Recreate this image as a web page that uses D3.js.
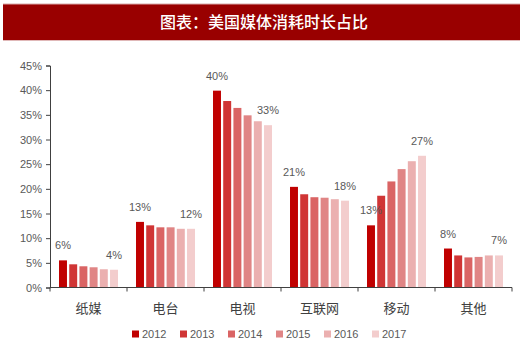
<!DOCTYPE html>
<html><head><meta charset="utf-8">
<script src="https://cdn.jsdelivr.net/npm/d3@7"></script>
<style>body{margin:0;background:#fff;}svg{display:block;}</style>
</head><body>
<svg id="c" width="520" height="349"></svg>
<script>
const title = "图表：美国媒体消耗时长占比";
const categories = ["纸媒","电台","电视","互联网","移动","其他"];
const years = ["2012","2013","2014","2015","2016","2017"];
const colors = ["#C00000","#D03535","#DA6464","#E08585","#EBB0B0","#F3CDCD"];
const s2012 = [5.5, 13.3, 39.9, 20.4, 12.6, 7.9];
const s2013 = [4.7, 12.6, 37.8, 18.9, 18.6, 6.5];
const s2014 = [4.3, 12.2, 36.4, 18.3, 21.5, 6.1];
const s2015 = [4.1, 12.2, 34.9, 18.2, 24.0, 6.2];
const s2016 = [3.7, 11.9, 33.7, 17.9, 25.6, 6.5];
const s2017 = [3.6, 11.9, 32.9, 17.6, 26.7, 6.5];
const firstLabels = ["6%","13%","40%","21%","13%","8%"];
const lastLabels = ["4%","12%","33%","18%","27%","7%"];
const yTicks = [0,5,10,15,20,25,30,35,40,45];

const series = [s2012,s2013,s2014,s2015,s2016,s2017];
const svg = d3.select("#c");

// title bar
svg.append("rect").attr("x",3).attr("y",4).attr("width",517).attr("height",36).attr("fill","#990000");
svg.append("line").attr("x1",3).attr("x2",520).attr("y1",4).attr("y2",4).attr("stroke","#d8a8a8");
svg.append("line").attr("x1",3).attr("x2",520).attr("y1",40.5).attr("y2",40.5).attr("stroke","#e0b8b8");
svg.append("text").attr("x",264).attr("y",28).attr("text-anchor","middle")
  .attr("fill","#fff").attr("font-family","'Noto Sans CJK SC'").attr("font-size",16).attr("font-weight",500)
  .text(title);

const x0 = d3.scaleBand().domain(categories).range([50,512]).paddingInner(0.234).paddingOuter(0.117);
const x1 = d3.scaleBand().domain(years).range([0,x0.bandwidth()]).paddingInner(0.22).paddingOuter(0);
const y = d3.scaleLinear().domain([0,45]).range([287.5,65.5]);

// bars
categories.forEach((c,ci)=>{
  const g = svg.append("g").attr("transform",`translate(${x0(c)},0)`);
  years.forEach((yr,yi)=>{
    const v = series[yi][ci];
    g.append("rect").attr("x",x1(yr)).attr("y",y(v)).attr("width",x1.bandwidth())
      .attr("height",y(0)-y(v)).attr("fill",colors[yi]);
  });
  const lbl = (yr,v,t)=> g.append("text").attr("x",x1(yr)+x1.bandwidth()/2).attr("y",y(v)-11)
    .attr("text-anchor","middle").attr("font-family","'Liberation Sans'").attr("font-size",11)
    .attr("fill","#595959").text(t);
  lbl(years[0], series[0][ci], firstLabels[ci]);
  lbl(years[5], series[5][ci], lastLabels[ci]);
});

// y axis
const yAxis = svg.append("g").attr("transform","translate(50,0)")
  .call(d3.axisLeft(y).tickValues(yTicks).tickFormat(d=>d+"%").tickSize(4).tickPadding(4));
yAxis.select(".domain").attr("stroke","#404040");
yAxis.selectAll(".tick line").attr("stroke","#404040");
yAxis.selectAll("text").attr("font-family","'Liberation Sans'").attr("font-size",11).attr("fill","#595959");

// x axis
const xAxis = svg.append("g").attr("transform",`translate(0,${y(0)})`);
xAxis.append("line").attr("x1",50).attr("x2",512).attr("y1",0).attr("y2",0).attr("stroke","#404040");
const edges = categories.map(c=>x0(c)-x0.step()*x0.paddingOuter()).concat([512]);
edges.forEach(e=>xAxis.append("line").attr("x1",e).attr("x2",e).attr("y1",0).attr("y2",4).attr("stroke","#404040"));
categories.forEach(c=>{
  xAxis.append("text").attr("x",x0(c)+x0.bandwidth()/2).attr("y",25).attr("text-anchor","middle")
    .attr("font-family","'Noto Sans CJK SC'").attr("font-size",13).attr("fill","#404040").text(c);
});

// legend
const lg = svg.append("g").attr("transform","translate(132,334)");
years.forEach((yr,i)=>{
  const gx = i*48;
  lg.append("rect").attr("x",gx).attr("y",-3.5).attr("width",7).attr("height",7).attr("fill",colors[i]);
  lg.append("text").attr("x",gx+10).attr("y",4).attr("font-family","'Liberation Sans'").attr("font-size",11)
    .attr("fill","#595959").text(yr);
});
</script>
</body></html>
